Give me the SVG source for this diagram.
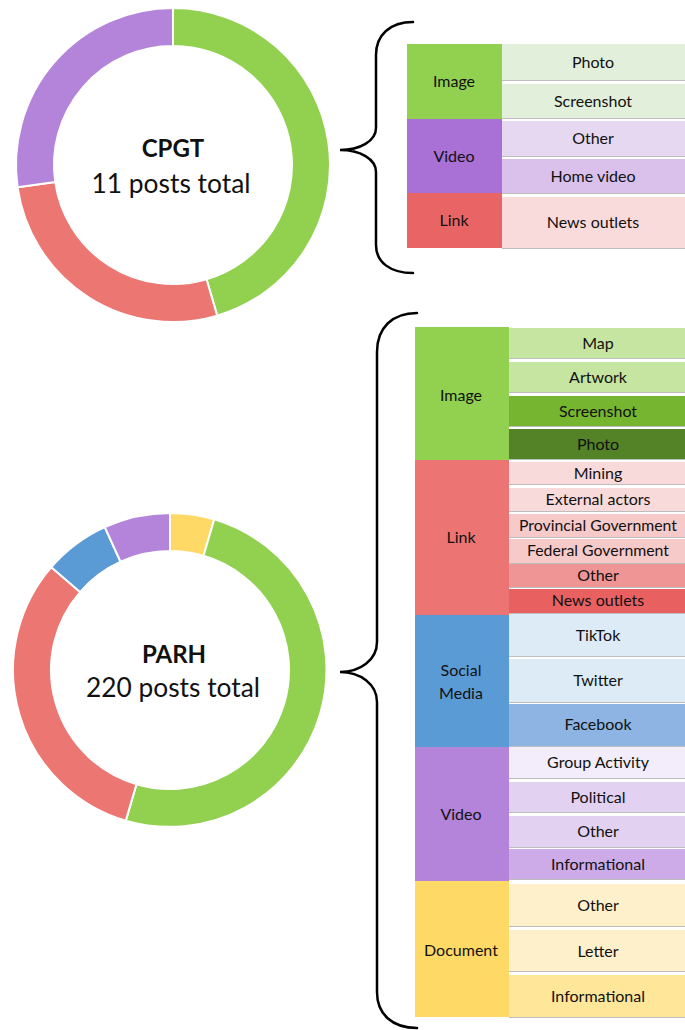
<svg xmlns="http://www.w3.org/2000/svg" width="685" height="1030" viewBox="0 0 685 1030">
  <style>
    .t { font-family: Lato, "Liberation Sans", sans-serif; font-size: 16px; fill: #111; text-anchor: middle; }
    .big { font-family: Lato, "Liberation Sans", sans-serif; font-size: 27px; fill: #111; text-anchor: middle; }
    .bold { font-weight: bold; font-size: 24px; }
    .seg { stroke: #fff; stroke-width: 2; stroke-linejoin: round; }
    .line { stroke: #bdbdbd; stroke-width: 1; }
    .brace { fill: none; stroke: #000; stroke-width: 2.5; stroke-linecap: round; }
  </style>

  <rect width="685" height="1030" fill="#fff"/>

  <!-- CPGT donut: 5 image, 3 link, 3 video -->
  <g id="donut-cpgt">
    <path class="seg" fill="#92D050" d="M173,8 A157,157 0 0 1 217.23,315.64 L206.52,279.18 A119,119 0 0 0 173,46 Z"/>
    <path class="seg" fill="#EC7672" d="M217.23,315.64 A157,157 0 0 1 17.60,187.34 L55.21,181.93 A119,119 0 0 0 206.52,279.18 Z"/>
    <path class="seg" fill="#B483DA" d="M17.60,187.34 A157,157 0 0 1 173,8 L173,46 A119,119 0 0 0 55.21,181.93 Z"/>
    <text class="big bold" x="173" y="157">CPGT</text>
    <text class="big" x="171" y="193" textLength="159" lengthAdjust="spacingAndGlyphs">11 posts total</text>
  </g>

  <!-- PARH donut: 10 document, 110 image, 70 link, 15 social media, 15 video -->
  <g id="donut-parh">
    <path class="seg" fill="#FFD966" d="M170,513 A157,157 0 0 1 214.23,519.36 L203.53,555.82 A119,119 0 0 0 170,551 Z"/>
    <path class="seg" fill="#92D050" d="M214.23,519.36 A157,157 0 0 1 125.77,820.64 L136.47,784.18 A119,119 0 0 0 203.53,555.82 Z"/>
    <path class="seg" fill="#EC7672" d="M125.77,820.64 A157,157 0 0 1 51.35,567.19 L80.07,592.07 A119,119 0 0 0 136.47,784.18 Z"/>
    <path class="seg" fill="#5B9BD5" d="M51.35,567.19 A157,157 0 0 1 104.78,527.19 L120.57,561.75 A119,119 0 0 0 80.07,592.07 Z"/>
    <path class="seg" fill="#B483DA" d="M104.78,527.19 A157,157 0 0 1 170,513 L170,551 A119,119 0 0 0 120.57,561.75 Z"/>
    <text class="big bold" x="174" y="663">PARH</text>
    <text class="big" x="173" y="697" textLength="174" lengthAdjust="spacingAndGlyphs">220 posts total</text>
  </g>

  <!-- Braces linking each donut to its breakdown -->
  <g id="connectors">
    <path class="brace" d="M413,22 C390,22 376,35 376,55 L376,128 C376,141 360,150 340,150 C360,150 376,159 376,172 L376,245 C376,262 390,273 413,273"/>
    <path class="brace" d="M417,313 C392,313 377,328 377,352 L377,642 C377,660 360,672 340,672 C360,672 377,684 377,702 L377,992 C377,1014 392,1028 417,1028"/>
  </g>

  <!-- CPGT breakdown -->
  <g id="cpgt-image">
    <rect x="407" y="44" width="95" height="75" fill="#92D050"/>
    <text class="t" x="454" y="87">Image</text>
  </g>
  <g id="cpgt-image-photo">
    <rect x="502" y="44" width="183" height="36" fill="#E2EFDA"/>
    <line class="line" x1="502" y1="80.5" x2="685" y2="80.5"/>
    <text class="t" x="593" y="67.5">Photo</text>
  </g>
  <g id="cpgt-image-screenshot">
    <rect x="502" y="84" width="183" height="34" fill="#E2EFDA"/>
    <line class="line" x1="502" y1="118.5" x2="685" y2="118.5"/>
    <text class="t" x="593" y="106.5">Screenshot</text>
  </g>
  <g id="cpgt-video">
    <rect x="407" y="119" width="95" height="74" fill="#A970D5"/>
    <text class="t" x="454" y="161.5">Video</text>
  </g>
  <g id="cpgt-video-other">
    <rect x="502" y="121" width="183" height="35" fill="#E6D8F1"/>
    <line class="line" x1="502" y1="156.5" x2="685" y2="156.5"/>
    <text class="t" x="593" y="144">Other</text>
  </g>
  <g id="cpgt-video-home">
    <rect x="502" y="159" width="183" height="34" fill="#D9C1EC"/>
    <line class="line" x1="502" y1="193.5" x2="685" y2="193.5"/>
    <text class="t" x="593" y="181.5">Home video</text>
  </g>
  <g id="cpgt-link">
    <rect x="407" y="193" width="95" height="55" fill="#E96565"/>
    <text class="t" x="454" y="226">Link</text>
  </g>
  <g id="cpgt-link-news">
    <rect x="502" y="197" width="183" height="51" fill="#FADBDC"/>
    <line class="line" x1="502" y1="248.5" x2="685" y2="248.5"/>
    <text class="t" x="593" y="228">News outlets</text>
  </g>

  <!-- PARH breakdown: image -->
  <g id="parh-image">
    <rect x="415" y="327" width="94" height="133" fill="#92D050"/>
    <text class="t" x="461" y="401">Image</text>
  </g>
  <g id="parh-image-map">
    <rect x="509" y="328" width="176" height="30" fill="#C5E5A0"/>
    <line class="line" x1="509" y1="358.5" x2="685" y2="358.5"/>
    <text class="t" x="598" y="349">Map</text>
  </g>
  <g id="parh-image-artwork">
    <rect x="509" y="362" width="176" height="30" fill="#C5E5A0"/>
    <line class="line" x1="509" y1="392.5" x2="685" y2="392.5"/>
    <text class="t" x="598" y="383">Artwork</text>
  </g>
  <g id="parh-image-screenshot">
    <rect x="509" y="396" width="176" height="30" fill="#76B52F"/>
    <line class="line" x1="509" y1="426.5" x2="685" y2="426.5"/>
    <text class="t" x="598" y="417">Screenshot</text>
  </g>
  <g id="parh-image-photo">
    <rect x="509" y="429" width="176" height="30" fill="#548226"/>
    <line class="line" x1="509" y1="459.5" x2="685" y2="459.5"/>
    <text class="t" x="598" y="450">Photo</text>
  </g>

  <!-- PARH breakdown: link -->
  <g id="parh-link">
    <rect x="415" y="460" width="94" height="155" fill="#EC7574"/>
    <text class="t" x="461" y="543">Link</text>
  </g>
  <g id="parh-link-mining">
    <rect x="509" y="462" width="176" height="22" fill="#F9DADA"/>
    <line class="line" x1="509" y1="484.5" x2="685" y2="484.5"/>
    <text class="t" x="598" y="479">Mining</text>
  </g>
  <g id="parh-link-external">
    <rect x="509" y="488" width="176" height="23" fill="#F9DADA"/>
    <line class="line" x1="509" y1="511.5" x2="685" y2="511.5"/>
    <text class="t" x="598" y="505">External actors</text>
  </g>
  <g id="parh-link-provincial">
    <rect x="509" y="514" width="176" height="23" fill="#F7CACA"/>
    <line class="line" x1="509" y1="537.5" x2="685" y2="537.5"/>
    <text class="t" x="598" y="531" textLength="158" lengthAdjust="spacingAndGlyphs">Provincial Government</text>
  </g>
  <g id="parh-link-federal">
    <rect x="509" y="539" width="176" height="24" fill="#F7CACA"/>
    <line class="line" x1="509" y1="563.5" x2="685" y2="563.5"/>
    <text class="t" x="598" y="556" textLength="142" lengthAdjust="spacingAndGlyphs">Federal Government</text>
  </g>
  <g id="parh-link-other">
    <rect x="509" y="564" width="176" height="23" fill="#F09595"/>
    <line class="line" x1="509" y1="587.5" x2="685" y2="587.5"/>
    <text class="t" x="598" y="581">Other</text>
  </g>
  <g id="parh-link-news">
    <rect x="509" y="589" width="176" height="24" fill="#E96060"/>
    <line class="line" x1="509" y1="613.5" x2="685" y2="613.5"/>
    <text class="t" x="598" y="606">News outlets</text>
  </g>

  <!-- PARH breakdown: social media -->
  <g id="parh-social">
    <rect x="415" y="615" width="94" height="132" fill="#5B9BD5"/>
    <text class="t" x="461" y="676">Social</text>
    <text class="t" x="461" y="699">Media</text>
  </g>
  <g id="parh-social-tiktok">
    <rect x="509" y="614" width="176" height="42" fill="#DDEBF7"/>
    <line class="line" x1="509" y1="656.5" x2="685" y2="656.5"/>
    <text class="t" x="598" y="641">TikTok</text>
  </g>
  <g id="parh-social-twitter">
    <rect x="509" y="659" width="176" height="43" fill="#DDEBF7"/>
    <line class="line" x1="509" y1="702.5" x2="685" y2="702.5"/>
    <text class="t" x="598" y="686">Twitter</text>
  </g>
  <g id="parh-social-facebook">
    <rect x="509" y="704" width="176" height="42" fill="#8DB4E2"/>
    <line class="line" x1="509" y1="746.5" x2="685" y2="746.5"/>
    <text class="t" x="598" y="730">Facebook</text>
  </g>

  <!-- PARH breakdown: video -->
  <g id="parh-video">
    <rect x="415" y="747" width="94" height="134" fill="#B483DA"/>
    <text class="t" x="461" y="820">Video</text>
  </g>
  <g id="parh-video-group">
    <rect x="509" y="747" width="176" height="31" fill="#F3ECFA"/>
    <line class="line" x1="509" y1="778.5" x2="685" y2="778.5"/>
    <text class="t" x="598" y="768">Group Activity</text>
  </g>
  <g id="parh-video-political">
    <rect x="509" y="782" width="176" height="30" fill="#E3D1F2"/>
    <line class="line" x1="509" y1="812.5" x2="685" y2="812.5"/>
    <text class="t" x="598" y="803">Political</text>
  </g>
  <g id="parh-video-other">
    <rect x="509" y="816" width="176" height="31" fill="#E3D1F2"/>
    <line class="line" x1="509" y1="847.5" x2="685" y2="847.5"/>
    <text class="t" x="598" y="837">Other</text>
  </g>
  <g id="parh-video-informational">
    <rect x="509" y="849" width="176" height="30" fill="#CDAAE8"/>
    <line class="line" x1="509" y1="879.5" x2="685" y2="879.5"/>
    <text class="t" x="598" y="870">Informational</text>
  </g>

  <!-- PARH breakdown: document -->
  <g id="parh-document">
    <rect x="415" y="881" width="94" height="136" fill="#FFD966"/>
    <text class="t" x="461" y="956">Document</text>
  </g>
  <g id="parh-document-other">
    <rect x="509" y="884" width="176" height="42" fill="#FFF0CC"/>
    <line class="line" x1="509" y1="926.5" x2="685" y2="926.5"/>
    <text class="t" x="598" y="911">Other</text>
  </g>
  <g id="parh-document-letter">
    <rect x="509" y="930" width="176" height="41" fill="#FFF0CC"/>
    <line class="line" x1="509" y1="971.5" x2="685" y2="971.5"/>
    <text class="t" x="598" y="957">Letter</text>
  </g>
  <g id="parh-document-informational">
    <rect x="509" y="975" width="176" height="42" fill="#FFE699"/>
    <line class="line" x1="509" y1="1017.5" x2="685" y2="1017.5"/>
    <text class="t" x="598" y="1002">Informational</text>
  </g>
</svg>
